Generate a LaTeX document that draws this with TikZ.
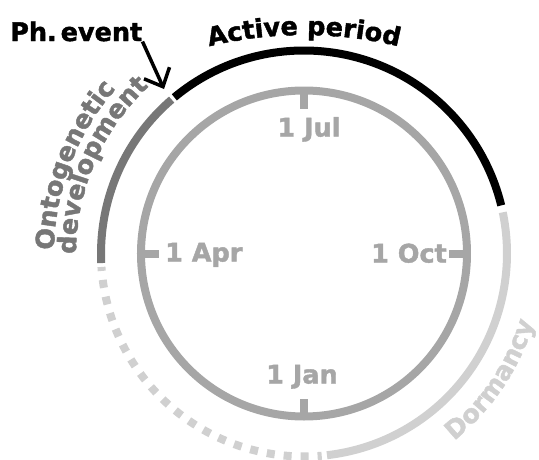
\documentclass[tikz,border=0pt]{standalone}
\usepackage{fontspec}
\newfontfamily\lblfont{DejaVu Sans}[BoldFeatures={FakeBold=1.6}]
\usetikzlibrary{arrows.meta, decorations.text}
\definecolor{dategray}{HTML}{A6A6A6}
\definecolor{ontogray}{HTML}{777777}
\definecolor{dormgray}{HTML}{D0D0D0}
\newcommand{\lblsize}{\lblfont\bfseries\fontsize{25.5}{30}\selectfont}

\begin{document}
\begin{tikzpicture}[
  x=1pt, y=1pt,
  >={Straight Barb[length=15pt, width=28pt]},
  every node/.style={font=\lblsize, inner sep=0pt},
  datelabel/.style={text=dategray},
  datetick/.style={dategray, line width=8pt},
  phase/.style={line width=8pt},
  arclabel/.style={decorate, decoration={text along path, text align=center, text={#1}}},
]

% Frame, origin at the centre of the year circle
\useasboundingbox (-304,-205.5) rectangle (235,253.5);

% Year circle with the four date ticks
\draw[dategray, line width=8pt] (0,0) circle[radius=163pt];
\foreach \a in {0,90,180,270}
  \draw[datetick] (\a:163pt) -- (\a:145pt);

\node[datelabel, anchor=base] (jul) at (5,117) {1 Jul};
\node[datelabel, anchor=base west] (apr) at (-139,-8) {1 Apr};
\node[datelabel, anchor=base east] (oct) at (143,-9) {1 Oct};
\node[datelabel, anchor=base] (jan) at (-2,-130) {1 Jan};

% Phase ring
\draw[phase, ontogray] (182.7:203pt) arc[start angle=182.7, end angle=130.7, radius=203pt];
\draw[phase, black] (129.7:203pt) arc[start angle=129.7, end angle=13.7, radius=203pt];
\draw[phase, dormgray] (11.7:203pt) arc[start angle=11.7, end angle=-83.5, radius=203pt];
\draw[phase, dormgray, dash pattern=on 8pt off 9pt, dash phase=4pt]
  (183.8:203pt) arc[start angle=183.8, end angle=275, radius=203pt];

% Curved phase labels
\path[arclabel={|\lblsize|Active period}, shift={(0,-181.5)}]
  (110:400pt) arc[start angle=110, end angle=70, radius=400pt];
\path[arclabel={|\lblsize\color{ontogray}|Ontogenetic}]
  (185:250pt) arc[start angle=185, end angle=133, radius=250pt];
\path[arclabel={|\lblsize\color{ontogray}|development}]
  (183:228pt) arc[start angle=183, end angle=130, radius=228pt];
\path[arclabel={|\lblsize\color{dormgray}|Dormancy}]
  (-57:240pt) arc[start angle=-57, end angle=-11, radius=240pt];

% Phenological event
\node[anchor=base west] (phev) at (-294,212.5) {Ph.\hspace{4pt}event};
\coordinate (phtip) at (130.4:216pt);
\draw[->, line width=3.5pt] (phev.south east) -- (phtip);

\end{tikzpicture}
\end{document}
